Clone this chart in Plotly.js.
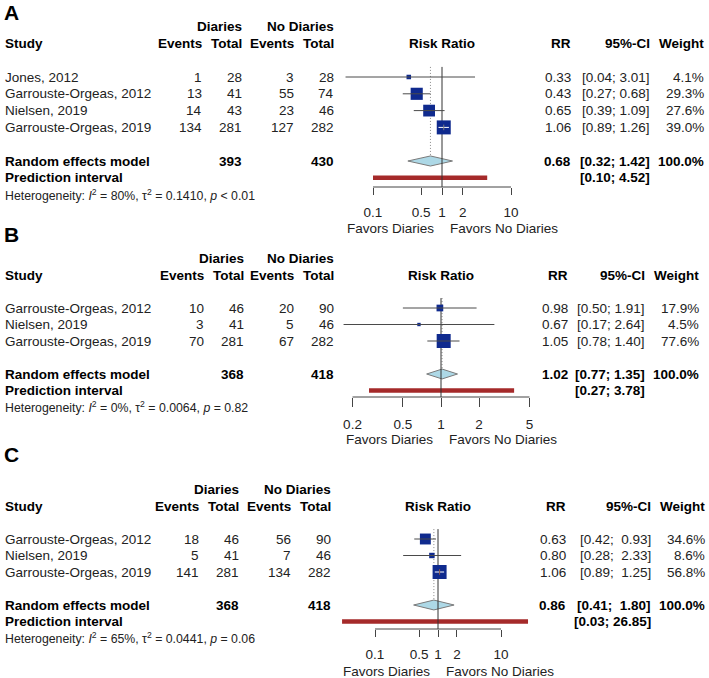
<!DOCTYPE html>
<html><head><meta charset="utf-8">
<script src="https://cdn.plot.ly/plotly-3.0.1.min.js"></script>
<style>html,body{margin:0;padding:0;background:#fff}#chart{width:709px;height:678px}</style>
</head><body><div id="chart"></div>
<script>
// ---------------- Panel A data ----------------
const studiesA = ["Jones, 2012", "Garrouste-Orgeas, 2012", "Nielsen, 2019", "Garrouste-Orgeas, 2019"];
const eventsDiariesA = [1, 13, 14, 134];
const totalDiariesA = [28, 41, 43, 281];
const eventsNoDiariesA = [3, 55, 23, 127];
const totalNoDiariesA = [28, 74, 46, 282];
const rrA = [0.33, 0.43, 0.65, 1.06];
const ciLowA = [0.04, 0.27, 0.39, 0.89];
const ciHighA = [3.01, 0.68, 1.09, 1.26];
const weightA = [4.1, 29.3, 27.6, 39.0];
const pooledA = [0.68, 0.32, 1.42];
const predictionA = [0.10, 4.52];
const pooledTotalsA = [393, 430];
const heterogeneityA = ["80%", "0.1410", "< 0.01"];
const ticksA = [0.1, 0.5, 1, 2, 10];
const tickLabelsA = ["0.1", "0.5", "1", "2", "10"];

// ---------------- Panel B data ----------------
const studiesB = ["Garrouste-Orgeas, 2012", "Nielsen, 2019", "Garrouste-Orgeas, 2019"];
const eventsDiariesB = [10, 3, 70];
const totalDiariesB = [46, 41, 281];
const eventsNoDiariesB = [20, 5, 67];
const totalNoDiariesB = [90, 46, 282];
const rrB = [0.98, 0.67, 1.05];
const ciLowB = [0.50, 0.17, 0.78];
const ciHighB = [1.91, 2.64, 1.40];
const weightB = [17.9, 4.5, 77.6];
const pooledB = [1.02, 0.77, 1.35];
const predictionB = [0.27, 3.78];
const pooledTotalsB = [368, 418];
const heterogeneityB = ["0%", "0.0064", "= 0.82"];
const ticksB = [0.2, 0.5, 1, 2, 5];
const tickLabelsB = ["0.2", "0.5", "1", "2", "5"];

// ---------------- Panel C data ----------------
const studiesC = ["Garrouste-Orgeas, 2012", "Nielsen, 2019", "Garrouste-Orgeas, 2019"];
const eventsDiariesC = [18, 5, 141];
const totalDiariesC = [46, 41, 281];
const eventsNoDiariesC = [56, 7, 134];
const totalNoDiariesC = [90, 46, 282];
const rrC = [0.63, 0.80, 1.06];
const ciLowC = [0.42, 0.28, 0.89];
const ciHighC = [0.93, 2.33, 1.25];
const weightC = [34.6, 8.6, 56.8];
const pooledC = [0.86, 0.41, 1.80];
const predictionC = [0.03, 26.85];
const pooledTotalsC = [368, 418];
const heterogeneityC = ["65%", "0.0441", "= 0.06"];
const ticksC = [0.1, 0.5, 1, 2, 10];
const tickLabelsC = ["0.1", "0.5", "1", "2", "10"];

const panelLabels = ["A", "B", "C"];
const refValue = 1;

// ---------------- layout constants (pixels) ----------------
const W = 709, H = 678;
const FONT = "Liberation Sans, Arial, Helvetica, sans-serif";
const FS = 13.5;
const SQUARE_COL = "#0f2a8e";
const plotLeft = 330, plotRight = 560;
const cfgs = [
  {pxTop: 0, pxBottom: 232, row0: 77, step: 16.8, refPx: 442, decadePx: 69, axisPx: 187, favorsPx: 228, ticklen: 6.5, labelPx: 13,
   cols: {study: 3, eD: 204, tD: 244, eN: 296, tN: 336, rr: 573, ci: 652, wt: 706}},
  {pxTop: 232, pxBottom: 458, row0: 308, step: 16.5, refPx: 441, decadePx: 126.6, axisPx: 397, favorsPx: 439, ticklen: 9, labelPx: 234,
   cols: {study: 3, eD: 206, tD: 246, eN: 296, tN: 336, rr: 570, ci: 647, wt: 701}},
  {pxTop: 458, pxBottom: 678, row0: 539, step: 16.5, refPx: 438, decadePx: 63, axisPx: 629, favorsPx: 671, ticklen: 7, labelPx: 454,
   cols: {study: 3, eD: 201, tD: 241, eN: 293, tN: 333, rr: 568, ci: 653, wt: 707}}
];

const panels = [
  {studies: studiesA, eD: eventsDiariesA, tD: totalDiariesA, eN: eventsNoDiariesA, tN: totalNoDiariesA, rr: rrA, lo: ciLowA, hi: ciHighA, w: weightA,
   pooled: pooledA, pred: predictionA, totals: pooledTotalsA, het: heterogeneityA, ticks: ticksA, tickLabels: tickLabelsA},
  {studies: studiesB, eD: eventsDiariesB, tD: totalDiariesB, eN: eventsNoDiariesB, tN: totalNoDiariesB, rr: rrB, lo: ciLowB, hi: ciHighB, w: weightB,
   pooled: pooledB, pred: predictionB, totals: pooledTotalsB, het: heterogeneityB, ticks: ticksB, tickLabels: tickLabelsB},
  {studies: studiesC, eD: eventsDiariesC, tD: totalDiariesC, eN: eventsNoDiariesC, tN: totalNoDiariesC, rr: rrC, lo: ciLowC, hi: ciHighC, w: weightC,
   pooled: pooledC, pred: predictionC, totals: pooledTotalsC, het: heterogeneityC, ticks: ticksC, tickLabels: tickLabelsC}
];

const traces = [];
const annotations = [];
const layout = {
  width: W, height: H, margin: {l: 0, r: 0, t: 0, b: 0},
  paper_bgcolor: "#fff", plot_bgcolor: "rgba(0,0,0,0)",
  showlegend: false, font: {family: FONT, size: FS, color: "#222"},
  annotations: annotations
};

const NB = "\u00a0";
function pad(s, n) { while (s.length < n) s = NB + s; return s; }
function esc(s) { return String(s).replace(/</g, "&lt;"); }

panels.forEach((d, i) => {
  const c = cfgs[i];
  const p = i + 1;
  const xa = p === 1 ? "x" : "x" + p, ya = p === 1 ? "y" : "y" + p;
  const xKey = p === 1 ? "xaxis" : "xaxis" + p, yKey = p === 1 ? "yaxis" : "yaxis" + p;
  const n = d.studies.length;
  const rows = d.studies.map((_, k) => k);
  const rowPooled = n + 1, rowPred = n + 2, rowHet = n + 3;
  const toRow = px => (px - c.row0) / c.step;
  const axisRow = toRow(c.axisPx);
  const favorsRow = toRow(c.favorsPx);

  layout[yKey] = {
    domain: [1 - c.pxBottom / H, 1 - c.pxTop / H],
    range: [toRow(c.pxBottom), toRow(c.pxTop)],
    visible: false, fixedrange: true, anchor: xa
  };
  layout[xKey] = {
    type: "log", domain: [plotLeft / W, plotRight / W],
    range: [(plotLeft - c.refPx) / c.decadePx, (plotRight - c.refPx) / c.decadePx],
    anchor: "free", position: 1 - c.axisPx / H,
    showline: false, showgrid: false, zeroline: false,
    ticks: "outside", ticklen: c.ticklen, tickwidth: 1, tickcolor: "#444",
    tickmode: "array", tickvals: d.ticks, ticktext: d.tickLabels,
    tickfont: {family: FONT, size: FS, color: "#222"}, ticklabelstandoff: 6,
    fixedrange: true
  };

  // dotted pooled-estimate line
  traces.push({type: "scatter", mode: "lines", xaxis: xa, yaxis: ya, hoverinfo: "skip",
    x: [d.pooled[0], d.pooled[0]], y: [-0.6, rowPooled - 0.32],
    line: {color: "#8a8a8a", width: 1, dash: "1px,2px"}});
  // diamond
  traces.push({type: "scatter", mode: "lines", xaxis: xa, yaxis: ya, hoverinfo: "skip",
    x: [d.pooled[1], d.pooled[0], d.pooled[2], d.pooled[0], d.pooled[1]],
    y: [rowPooled, rowPooled - 0.3, rowPooled, rowPooled + 0.3, rowPooled],
    fill: "toself", fillcolor: "#add8e6", line: {color: "#7a7a7a", width: 1}});
  // prediction interval
  traces.push({type: "scatter", mode: "lines", xaxis: xa, yaxis: ya, hoverinfo: "skip",
    x: [d.pred[0], d.pred[1]], y: [rowPred, rowPred],
    line: {color: "#a52a2a", width: 4.5}});
  // reference line
  traces.push({type: "scatter", mode: "lines", xaxis: xa, yaxis: ya, hoverinfo: "skip",
    x: [refValue, refValue], y: [-0.6, axisRow],
    line: {color: "#333", width: 1}});
  // squares
  const wmax = Math.max(...d.w);
  const sizes = d.w.map(w => 14 * Math.sqrt(w / wmax));
  traces.push({type: "scatter", mode: "markers", xaxis: xa, yaxis: ya, hoverinfo: "skip",
    x: d.rr, y: rows,
    marker: {symbol: "square", size: sizes, color: SQUARE_COL, opacity: 1, line: {width: 0}}});
  // CI lines (white where the CI lies inside the square)
  const gx = [], gy = [], wx = [], wy = [], tx = [], ty = [];
  rows.forEach(k => {
    const half = (sizes[k] / 2) / c.decadePx;
    const inside = Math.log10(d.lo[k]) >= Math.log10(d.rr[k]) - half && Math.log10(d.hi[k]) <= Math.log10(d.rr[k]) + half;
    const X = inside ? wx : gx, Y = inside ? wy : gy;
    X.push(d.lo[k], d.hi[k], null); Y.push(k, k, null);
    if (inside) { tx.push(d.rr[k]); ty.push(k); }
  });
  traces.push({type: "scatter", mode: "lines", xaxis: xa, yaxis: ya, hoverinfo: "skip",
    x: gx, y: gy, line: {color: "#4a4a4a", width: 1}});
  traces.push({type: "scatter", mode: "lines", xaxis: xa, yaxis: ya, hoverinfo: "skip",
    x: wx, y: wy, line: {color: "#fff", width: 1}});
  traces.push({type: "scatter", mode: "markers", xaxis: xa, yaxis: ya, hoverinfo: "skip",
    x: tx, y: ty, marker: {symbol: "line-ns-open", size: 4, opacity: 1, line: {color: "#fff", width: 1}}});
  // axis line between first and last tick
  traces.push({type: "scatter", mode: "lines", xaxis: xa, yaxis: ya, hoverinfo: "skip",
    x: [d.ticks[0], d.ticks[d.ticks.length - 1]], y: [axisRow, axisRow],
    line: {color: "#444", width: 1}});

  // ---------- text ----------
  function txt(text, px, row, anchor, opts) {
    opts = opts || {};
    annotations.push({
      text: opts.bold ? "<b>" + text + "</b>" : text,
      xref: opts.xref || "paper", yref: ya,
      x: opts.xref ? opts.x : px / W, y: row,
      xanchor: anchor, yanchor: "middle", showarrow: false,
      xshift: opts.xshift || 0,
      font: {family: FONT, size: opts.size || FS, color: opts.bold ? "#000" : "#222"}
    });
  }
  const C = c.cols;
  const all = d.hi.map(v => v.toFixed(2)).concat([d.pooled[2].toFixed(2), d.pred[1].toFixed(2)]);
  const allLo = d.lo.map(v => v.toFixed(2)).concat([d.pooled[1].toFixed(2), d.pred[0].toFixed(2)]);
  const hiW = Math.max(...all.map(s => s.length)), loW = Math.max(...allLo.map(s => s.length));
  const ciStr = (lo, hi) => "[" + pad(lo.toFixed(2), loW) + ";" + NB + pad(hi.toFixed(2), hiW) + "]";

  txt("Diaries", C.tD, -3, "right", {bold: true});
  txt("No Diaries", C.tN, -3, "right", {bold: true});
  txt("Study", C.study, -2, "left", {bold: true});
  txt("Events", C.eD, -2, "right", {bold: true});
  txt("Total", C.tD, -2, "right", {bold: true});
  txt("Events", C.eN, -2, "right", {bold: true});
  txt("Total", C.tN, -2, "right", {bold: true});
  txt("Risk Ratio", 0, -2, "center", {bold: true, xref: xa, x: Math.log10(refValue)});
  txt("RR", C.rr, -2, "right", {bold: true});
  txt("95%-CI", C.ci, -2, "right", {bold: true});
  txt("Weight", C.wt, -2, "right", {bold: true});

  rows.forEach(k => {
    txt(d.studies[k], C.study, k, "left");
    txt(String(d.eD[k]), C.eD, k, "right");
    txt(String(d.tD[k]), C.tD, k, "right");
    txt(String(d.eN[k]), C.eN, k, "right");
    txt(String(d.tN[k]), C.tN, k, "right");
    txt(d.rr[k].toFixed(2), C.rr, k, "right");
    txt(ciStr(d.lo[k], d.hi[k]), C.ci, k, "right");
    txt(d.w[k].toFixed(1) + "%", C.wt, k, "right");
  });

  txt("Random effects model", C.study, rowPooled, "left", {bold: true});
  txt(String(d.totals[0]), C.tD, rowPooled, "right", {bold: true});
  txt(String(d.totals[1]), C.tN, rowPooled, "right", {bold: true});
  txt(d.pooled[0].toFixed(2), C.rr, rowPooled, "right", {bold: true});
  txt(ciStr(d.pooled[1], d.pooled[2]), C.ci, rowPooled, "right", {bold: true});
  txt("100.0%", C.wt, rowPooled, "right", {bold: true});
  txt("Prediction interval", C.study, rowPred, "left", {bold: true});
  txt(ciStr(d.pred[0], d.pred[1]), C.ci, rowPred, "right", {bold: true});

  txt("Heterogeneity: <i>I</i><sup>2</sup> = " + d.het[0] + ", τ<sup>2</sup> = " + d.het[1] + ", <i>p</i> " + esc(d.het[2]),
      C.study, rowHet, "left", {size: 12.3});

  txt("Favors Diaries", 0, favorsRow, "right", {xref: xa, x: Math.log10(refValue), xshift: -6});
  txt("Favors No Diaries", 0, favorsRow, "left", {xref: xa, x: Math.log10(refValue), xshift: 6});

  annotations.push({text: "<b>" + panelLabels[i] + "</b>", xref: "paper", yref: "paper",
    x: 2 / W, y: 1 - c.labelPx / H, xanchor: "left", yanchor: "middle", showarrow: false,
    font: {family: FONT, size: 21, color: "#000"}});
});

Plotly.newPlot("chart", traces, layout, {staticPlot: true, displayModeBar: false});
</script>
</body></html>
